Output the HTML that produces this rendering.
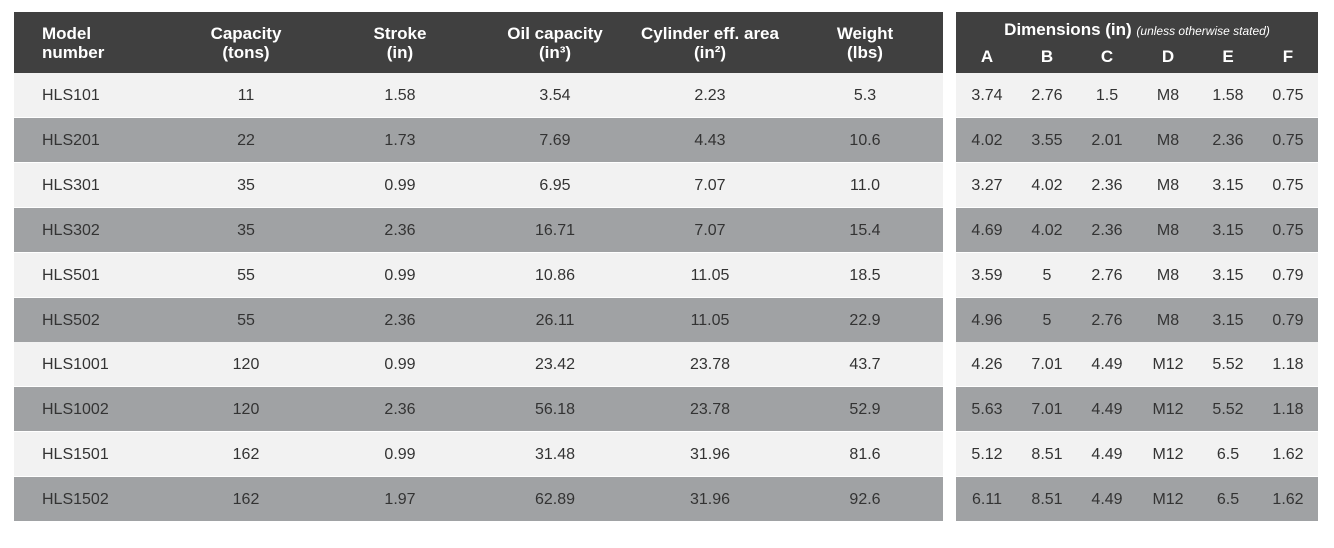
<!DOCTYPE html>
<html><head><meta charset="utf-8"><style>
body{margin:0;width:1334px;height:548px;background:#fff;font-family:"Liberation Sans",sans-serif;position:relative;overflow:hidden}
.hd{position:absolute;background:#404040;top:12px;height:61px}
.r{position:absolute;height:44px}
.l{background:#f2f2f2}.d{background:#a0a2a4}
.t{position:absolute;font-size:16px;color:#333;transform:translateX(-50%);white-space:nowrap}
.h{position:absolute;font-size:17px;color:#fff;font-weight:bold;text-align:center;transform:translateX(-50%);line-height:19px;white-space:nowrap}
</style></head><body>
<div class="hd" style="left:14px;width:929px"></div>
<div class="hd" style="left:956px;width:362px"></div>
<div class="h" style="left:42px;top:24px;transform:none;text-align:left">Model<br>number</div>
<div class="h" style="left:246px;top:24px">Capacity<br>(tons)</div>
<div class="h" style="left:400px;top:24px">Stroke<br>(in)</div>
<div class="h" style="left:555px;top:24px">Oil capacity<br>(in³)</div>
<div class="h" style="left:710px;top:24px">Cylinder eff. area<br>(in²)</div>
<div class="h" style="left:865px;top:24px">Weight<br>(lbs)</div>
<div class="h" style="left:1137px;top:20px">Dimensions (in) <span style="font-weight:normal;font-style:italic;font-size:12px">(unless otherwise stated)</span></div>
<div class="h" style="left:987px;top:47px">A</div><div class="h" style="left:1047px;top:47px">B</div><div class="h" style="left:1107px;top:47px">C</div><div class="h" style="left:1168px;top:47px">D</div><div class="h" style="left:1228px;top:47px">E</div><div class="h" style="left:1288px;top:47px">F</div>
<div id="rows"></div>
<script>
var data=[
["HLS101","11","1.58","3.54","2.23","5.3","3.74","2.76","1.5","M8","1.58","0.75"],
["HLS201","22","1.73","7.69","4.43","10.6","4.02","3.55","2.01","M8","2.36","0.75"],
["HLS301","35","0.99","6.95","7.07","11.0","3.27","4.02","2.36","M8","3.15","0.75"],
["HLS302","35","2.36","16.71","7.07","15.4","4.69","4.02","2.36","M8","3.15","0.75"],
["HLS501","55","0.99","10.86","11.05","18.5","3.59","5","2.76","M8","3.15","0.79"],
["HLS502","55","2.36","26.11","11.05","22.9","4.96","5","2.76","M8","3.15","0.79"],
["HLS1001","120","0.99","23.42","23.78","43.7","4.26","7.01","4.49","M12","5.52","1.18"],
["HLS1002","120","2.36","56.18","23.78","52.9","5.63","7.01","4.49","M12","5.52","1.18"],
["HLS1501","162","0.99","31.48","31.96","81.6","5.12","8.51","4.49","M12","6.5","1.62"],
["HLS1502","162","1.97","62.89","31.96","92.6","6.11","8.51","4.49","M12","6.5","1.62"]];
var xs=[0,246,400,555,710,865,987,1047,1107,1168,1228,1288],h="";
data.forEach(function(r,i){var y=73+i*44.9,c=i%2?"d":"l";
h+='<div class="r '+c+'" style="left:14px;width:929px;top:'+y+'px"></div><div class="r '+c+'" style="left:956px;width:362px;top:'+y+'px"></div>';
r.forEach(function(v,j){var ty=y+14;
if(j==0)h+='<div class="t" style="left:42px;top:'+ty+'px;transform:none">'+v+'</div>';
else h+='<div class="t" style="left:'+xs[j]+'px;top:'+ty+'px">'+v+'</div>';});});
document.getElementById("rows").innerHTML=h;
</script>
</body></html>
